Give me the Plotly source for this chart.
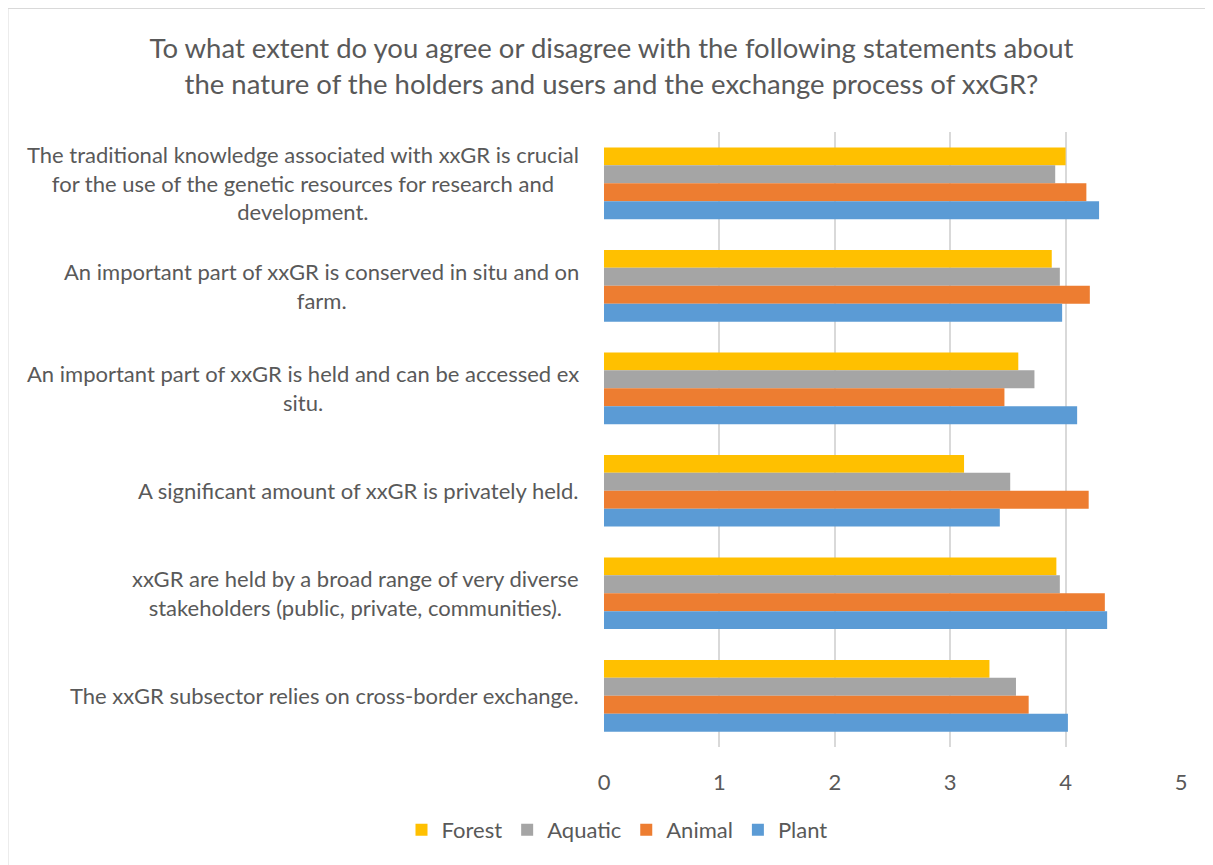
import plotly.graph_objects as go

categories = [
    "The traditional knowledge associated with xxGR is crucial<br>for the use of the genetic resources for research and<br>development.",
    "An important part of xxGR is conserved in situ and on<br>farm.",
    "An important part of xxGR is held and can be accessed ex<br>situ.",
    "A significant amount of xxGR is privately held.",
    "xxGR are held by a broad range of very diverse<br>stakeholders (public, private, communities).",
    "The xxGR subsector relies on cross-border exchange.",
]
forest = [4.00, 3.88, 3.59, 3.12, 3.92, 3.34]
aquatic = [3.91, 3.95, 3.73, 3.52, 3.95, 3.57]
animal = [4.18, 4.21, 3.47, 4.20, 4.34, 3.68]
plant = [4.29, 3.97, 4.10, 3.43, 4.36, 4.02]
x_ticks = [0, 1, 2, 3, 4, 5]
title_text = ("To what extent do you agree or disagree with the following statements about<br>"
              "the nature of the holders and users and the exchange process of xxGR?")

series = [("Forest", forest, "#FFC000"), ("Aquatic", aquatic, "#A5A5A5"),
          ("Animal", animal, "#ED7D31"), ("Plant", plant, "#5B9BD5")]

FONT = "Lato, 'Open Sans', sans-serif"
TXT = "#595959"

fig = go.Figure()
for name, vals, col in series:
    fig.add_trace(go.Bar(y=categories, x=vals, name=name, orientation="h",
                         marker=dict(color=col, line=dict(width=0))))

# figure geometry in figure px (page is offset by 8px body margin)
W, H = 1213, 865
L, T = 596, 124
pw, ph = 577, 615
R = W - L - pw
B = H - T - ph

def px_x(p):
    return (p - L) / pw

def px_y(p):
    return (H - B - p) / ph

for c in categories:
    fig.add_annotation(x=px_x(573), xref="paper", y=c, yref="y", text=c,
                       showarrow=False, xanchor="right", align="center",
                       font=dict(family=FONT, size=22, color=TXT))

fig.add_shape(type="rect", xref="paper", yref="paper",
              x0=px_x(0), x1=px_x(1220), y0=px_y(870), y1=px_y(0.5),
              line=dict(color="#D9D9D9", width=1), fillcolor="rgba(0,0,0,0)", layer="below")

fig.update_layout(
    width=W, height=H,
    margin=dict(l=L, r=R, t=T, b=B),
    paper_bgcolor="white", plot_bgcolor="white",
    barmode="group", bargap=0.3, bargroupgap=0,
    title=dict(text=title_text, x=603.5 / W, xanchor="center", y=1 - 50 / H, yanchor="middle",
               font=dict(family=FONT, size=27.5, color=TXT)),
    font=dict(family=FONT, color=TXT),
    xaxis=dict(range=[0, 5], tickvals=x_ticks, showgrid=True, gridcolor="#D9D9D9",
               gridwidth=1.5, zeroline=False, showline=False,
               tickfont=dict(family=FONT, size=22, color=TXT), ticks="", ticklabelstandoff=20),
    yaxis=dict(autorange="reversed", showticklabels=False, showgrid=False,
               zeroline=False, showline=False, ticks=""),
    legend=dict(orientation="h", x=px_x(609), xanchor="center", y=px_y(822), yanchor="middle",
                xref="paper", font=dict(family=FONT, size=22, color=TXT),
                itemwidth=30, traceorder="normal"),
    showlegend=True,
)

fig.write_html("out.html")
